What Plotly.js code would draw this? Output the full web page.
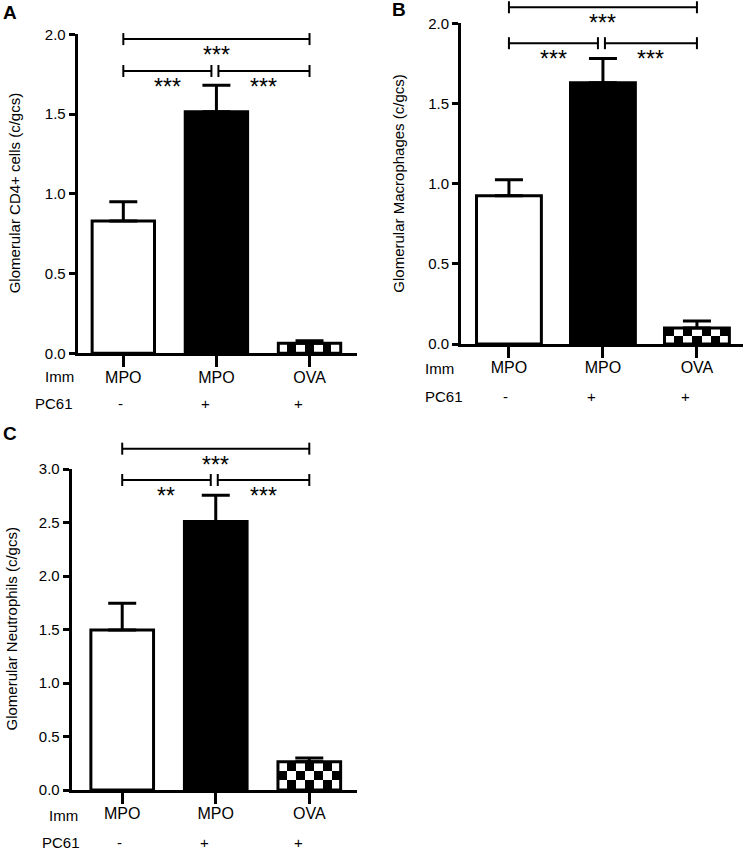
<!DOCTYPE html>
<html><head><meta charset="utf-8">
<script src="https://cdn.plot.ly/plotly-3.0.1.min.js"></script>
<style>html,body{margin:0;padding:0;background:#fff}#chart{width:748px;height:851px}</style>
</head><body><div id="chart"></div>
<script>
// ---------- data ----------
const categories = ['MPO', 'MPO', 'OVA'];   // Imm row
const pc61 = ['-', '+', '+'];               // PC61 row
const cd4Mean = [0.83, 1.515, 0.063];
const cd4Sem  = [0.12, 0.165, 0.015];
const macMean = [0.925, 1.63, 0.10];
const macSem  = [0.10, 0.15, 0.043];
const neuMean = [1.495, 2.51, 0.265];
const neuSem  = [0.25, 0.245, 0.035];
// significance comparisons [from, to, label] and their heights
const cd4Sig = [[0, 2, '***'], [0, 1, '***'], [1, 2, '***']];
const macSig = [[0, 2, '***'], [0, 1, '***'], [1, 2, '***']];
const neuSig = [[0, 2, '***'], [0, 1, '**'], [1, 2, '***']];
const cd4SigY = [1.97, 1.77, 1.77];
const macSigY = [2.10, 1.876, 1.876];
const neuSigY = [3.19, 2.897, 2.897];

// ---------- layout ----------
const W = 748, H = 851;
const FONT = 'Liberation Sans, Arial, sans-serif';
const panels = [
  {letter: 'A', lp: [10, 12], title: 'Glomerular CD4+ cells (c/gcs)', tx: 14.5,
   mean: cd4Mean, sem: cd4Sem, sig: cd4Sig, sigY: cd4SigY,
   xpx: [77.7, 357], ypx: [34.3, 353.3], xr: [-0.49, 2.51], yr: [0, 2], bw: 0.67,
   immL: 43, pcL: 33, immY: 376, pcY: 403},
  {letter: 'B', lp: [399, 9], title: 'Glomerular Macrophages (c/gcs)', tx: 399,
   mean: macMean, sem: macSem, sig: macSig, sigY: macSigY,
   xpx: [461, 743], ypx: [23.3, 344], xr: [-0.51, 2.49], yr: [0, 2], bw: 0.69,
   immL: 423, pcL: 423, immY: 368, pcY: 396},
  {letter: 'C', lp: [10, 433], title: 'Glomerular Neutrophils (c/gcs)', tx: 11,
   mean: neuMean, sem: neuSem, sig: neuSig, sigY: neuSigY,
   xpx: [71.7, 357], ypx: [469, 790], xr: [-0.54, 2.51], yr: [0, 3], bw: 0.67,
   immL: 46.7, pcL: 40, immY: 815, pcY: 842}
];

const data = [], shapes = [], annotations = [], layout = {
  width: W, height: H, margin: {l: 0, r: 0, t: 0, b: 0},
  paper_bgcolor: 'white', plot_bgcolor: 'white', showlegend: false,
  font: {family: FONT, color: 'black'}
};
const fx = p => p / W, fy = p => 1 - p / H;

panels.forEach((P, i) => {
  const n = i === 0 ? '' : String(i + 1);
  const xa = 'x' + n, ya = 'y' + n;
  const pxX = (P.xpx[1] - P.xpx[0]) / (P.xr[1] - P.xr[0]);
  const pxY = (P.ypx[1] - P.ypx[0]) / (P.yr[1] - P.yr[0]);
  const toPx = x => P.xpx[0] + (x - P.xr[0]) * pxX;
  const toPy = y => P.ypx[1] - (y - P.yr[0]) * pxY;

  layout['xaxis' + n] = {
    domain: [fx(P.xpx[0]), fx(P.xpx[1])], range: P.xr, anchor: ya,
    showline: true, linewidth: 3, linecolor: 'black', mirror: false,
    ticks: 'outside', ticklen: 11, tickwidth: 3, tickcolor: 'black',
    tickvals: [0, 1, 2], ticktext: categories, tickfont: {size: 16, family: FONT},
    ticklabelstandoff: -4,
    showgrid: false, zeroline: false, fixedrange: true
  };
  layout['yaxis' + n] = {
    domain: [fy(P.ypx[1]), fy(P.ypx[0])], range: P.yr, anchor: xa,
    showline: true, linewidth: 3, linecolor: 'black',
    ticks: 'outside', ticklen: 6, tickwidth: 3, tickcolor: 'black',
    dtick: 0.5, tick0: 0, tickformat: '.1f', tickfont: {size: 15, family: FONT},
    showgrid: false, zeroline: false, fixedrange: true
  };

  // checkered fill of the OVA bar (heatmap under the bar outline)
  const v = P.mean[2];
  const ncol = Math.max(1, Math.round(P.bw * pxX / 9));
  const nrow = Math.max(1, Math.round(v * pxY / 9));
  const xe = [], ye = [], z = [];
  for (let c = 0; c <= ncol; c++) xe.push(2 - P.bw / 2 + c * P.bw / ncol);
  for (let r = 0; r <= nrow; r++) ye.push(r * v / nrow);
  for (let r = 0; r < nrow; r++) { const row = []; for (let c = 0; c < ncol; c++) row.push((r + c) % 2); z.push(row); }
  data.push({type: 'heatmap', x: xe, y: ye, z: z, xaxis: xa, yaxis: ya, zsmooth: false,
    colorscale: [[0, 'white'], [1, 'black']], zmin: 0, zmax: 1, showscale: false, hoverinfo: 'skip'});

  data.push({
    type: 'bar', x: [0, 1, 2], y: P.mean, width: P.bw, xaxis: xa, yaxis: ya,
    marker: {color: ['white', 'black', 'rgba(0,0,0,0)'], line: {color: 'black', width: 3}},
    error_y: {type: 'data', array: P.sem, arrayminus: [0, 0, 0], symmetric: false,
      color: 'black', thickness: 3, width: 14},
    hoverinfo: 'skip'
  });

  // significance brackets
  P.sig.forEach((s, k) => {
    let x0 = toPx(s[0]), x1 = toPx(s[1]);
    if (s[0] > 0 && s[0] < 2) x0 += 2;
    if (s[1] > 0 && s[1] < 2) x1 -= 5;
    const yp = toPy(P.sigY[k]);
    const line = {color: 'black', width: 2};
    shapes.push({type: 'line', xref: 'paper', yref: 'paper', x0: fx(x0), x1: fx(x1), y0: fy(yp), y1: fy(yp), line});
    shapes.push({type: 'line', xref: 'paper', yref: 'paper', x0: fx(x0), x1: fx(x0), y0: fy(yp - 6), y1: fy(yp + 6), line});
    shapes.push({type: 'line', xref: 'paper', yref: 'paper', x0: fx(x1), x1: fx(x1), y0: fy(yp - 6), y1: fy(yp + 6), line});
    annotations.push({xref: 'paper', yref: 'paper', x: fx((x0 + x1) / 2), y: fy(yp + 16),
      text: s[2], showarrow: false, xanchor: 'center', yanchor: 'middle', font: {size: 23, family: FONT}});
  });

  // panel letter, y title, row labels
  annotations.push({xref: 'paper', yref: 'paper', x: fx(P.lp[0]), y: fy(P.lp[1]), text: '<b>' + P.letter + '</b>',
    showarrow: false, xanchor: 'center', yanchor: 'middle', font: {size: 19, family: FONT}});
  annotations.push({xref: 'paper', yref: 'paper', x: fx(P.tx), y: fy((P.ypx[0] + P.ypx[1]) / 2), text: P.title,
    textangle: -90, showarrow: false, xanchor: 'center', yanchor: 'middle', font: {size: 15, family: FONT}});
  annotations.push({xref: 'paper', yref: 'paper', x: fx(P.immL), y: fy(P.immY), text: 'Imm',
    showarrow: false, xanchor: 'left', yanchor: 'middle', font: {size: 15, family: FONT}});
  annotations.push({xref: 'paper', yref: 'paper', x: fx(P.pcL), y: fy(P.pcY), text: 'PC61',
    showarrow: false, xanchor: 'left', yanchor: 'middle', font: {size: 15, family: FONT}});
  pc61.forEach((t, k) => {
    annotations.push({xref: 'paper', yref: 'paper', x: fx(toPx(k) + (t === '+' ? -11 : -3)), y: fy(P.pcY), text: t,
      showarrow: false, xanchor: 'center', yanchor: 'middle', font: {size: 15, family: FONT}});
  });
});

layout.shapes = shapes;
layout.annotations = annotations;
Plotly.newPlot('chart', data, layout, {displayModeBar: false, staticPlot: true});
</script>
</body></html>
